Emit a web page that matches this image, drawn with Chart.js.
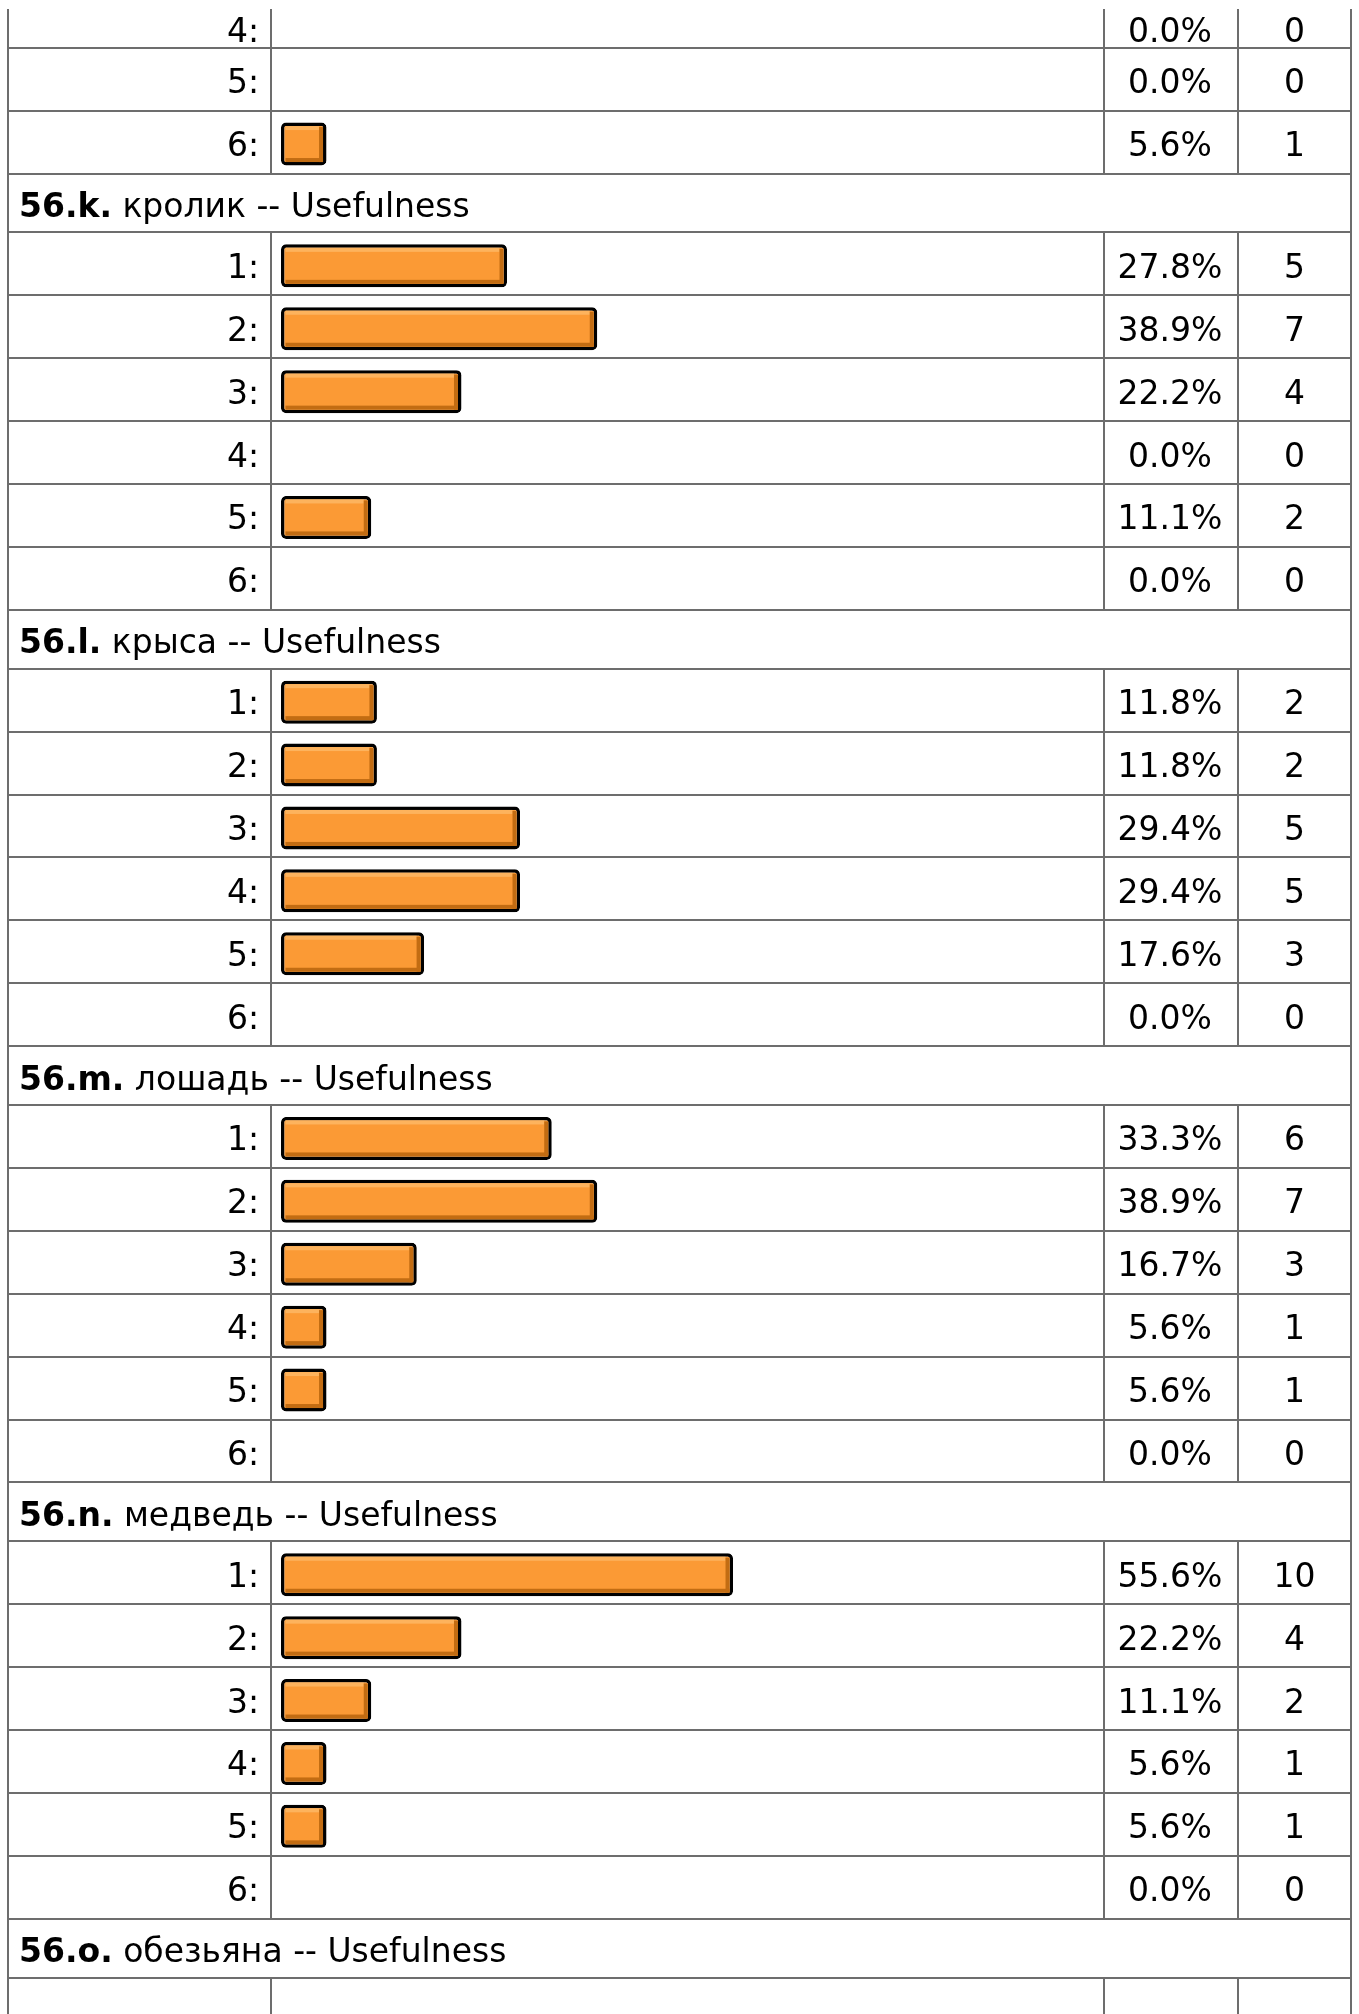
<!DOCTYPE html>
<html>
<head>
<meta charset="utf-8">
<title>56 — Usefulness</title>
<script src="https://cdn.jsdelivr.net/npm/chart.js@4.4.1/dist/chart.umd.min.js"></script>
<style>
  html, body { margin: 0; padding: 0; background: #ffffff; }
  #wrap { position: relative; width: 1359px; height: 2014px; overflow: hidden; }
  canvas { display: block; }
</style>
</head>
<body>
<div id="wrap"><canvas id="survey" width="1359" height="2014"></canvas></div>
<script>
// ---- answers ----------------------------------------------------------
const answerLabels = ['1:', '2:', '3:', '4:', '5:', '6:'];

// 56.j: only the last three answers are in view
const jLabels  = ['4:', '5:', '6:'];
const jPercent = [0.0, 0.0, 5.6];
const jCount   = [0, 0, 1];

// 56.k кролик
const kPercent = [27.8, 38.9, 22.2, 0.0, 11.1, 0.0];
const kCount   = [5, 7, 4, 0, 2, 0];

// 56.l крыса
const lPercent = [11.8, 11.8, 29.4, 29.4, 17.6, 0.0];
const lCount   = [2, 2, 5, 5, 3, 0];

// 56.m лошадь
const mPercent = [33.3, 38.9, 16.7, 5.6, 5.6, 0.0];
const mCount   = [6, 7, 3, 1, 1, 0];

// 56.n медведь
const nPercent = [55.6, 22.2, 11.1, 5.6, 5.6, 0.0];
const nCount   = [10, 4, 2, 1, 1, 0];

// question headings
const questionIds     = ['56.k.', '56.l.', '56.m.', '56.n.', '56.o.'];
const questionAnimals = ['кролик', 'крыса', 'лошадь', 'медведь', 'обезьяна'];
const questionSuffix  = ' -- Usefulness';

const blockPercents = [kPercent, lPercent, mPercent, nPercent];
const blockCounts   = [kCount, lCount, mCount, nCount];

// ---- table geometry ---------------------------------------------------
const PAGE_TOP   = 9;              // whitespace above the table
const ROW_PX     = 62.9;           // one answer row
const HEAD_SPAN  = 58.9 / ROW_PX;  // question rows are slightly shorter
const FIRST_SPAN = 38.7 / ROW_PX;  // the topmost row is partly scrolled away
const BAR_DROP   = 2 / ROW_PX;     // bars sit a touch below the row middle

const COLS = { left: 7, label: 270, pct: 1103, count: 1237, right: 1350, lineW: 2 };
const LABEL_RIGHT = 259;
const HEAD_X = 19;
const BASELINE_DROP = 14;

const LINE_COLOR = '#6d6d6d';
const TEXT_COLOR = '#000000';
const BAR_FILL   = '#fb9a35';
const BAR_LIGHT  = '#fdb35d';
const BAR_DARK   = '#c26c12';
const BAR_EDGE   = '#000000';
const BAR_BORDER = 3.5;

const FONT      = '33px "DejaVu Sans", Verdana, sans-serif';
const FONT_BOLD = 'bold 33px "DejaVu Sans", Verdana, sans-serif';

// Build the row list (in row units) from the arrays above
const rows = [];
let cursor = 0;
function addRow(row, span) {
  row.start = cursor;
  row.span = span;
  row.mid = cursor + span / 2;
  cursor += span;
  rows.push(row);
}

jLabels.forEach((lab, i) => {
  addRow({ kind: 'answer', label: lab, pct: jPercent[i], count: jCount[i] }, i === 0 ? FIRST_SPAN : 1);
});
questionIds.forEach((id, q) => {
  addRow({ kind: 'question', id: id, text: ' ' + questionAnimals[q] + questionSuffix }, HEAD_SPAN);
  if (q < blockPercents.length) {
    answerLabels.forEach((lab, i) => {
      addRow({ kind: 'answer', label: lab, pct: blockPercents[q][i], count: blockCounts[q][i] }, 1);
    });
  } else {
    addRow({ kind: 'blank' }, 1);
  }
});

const answerRows = rows.filter(r => r.kind === 'answer');
const barPoints = answerRows.map(r => ({ x: r.pct, y: r.mid + BAR_DROP }));

// ---- grid, captions and bar bevels ------------------------------------
const tablePlugin = {
  id: 'surveyTable',
  afterDatasetsDraw(chart) {
    const ctx = chart.ctx;
    const ys = chart.scales.y;
    const top = chart.chartArea.top;
    const bottom = chart.height;
    const px = u => ys.getPixelForValue(u);

    ctx.save();

    // bevel highlights on each bar
    const meta = chart.getDatasetMeta(0);
    meta.data.forEach(bar => {
      const p = bar.getProps(['x', 'y', 'base', 'height'], true);
      if (p.x - p.base < 10) return;
      const l = p.base + BAR_BORDER;
      const r = p.x - BAR_BORDER;
      const t = p.y - p.height / 2 + BAR_BORDER;
      const b = p.y + p.height / 2 - BAR_BORDER;
      ctx.fillStyle = BAR_LIGHT;
      ctx.fillRect(l + 1, t, r - l - 5, 4);
      ctx.fillStyle = BAR_DARK;
      ctx.fillRect(l + 1, b - 4, r - l - 1, 4);
      ctx.fillRect(r - 4, t + 1, 4, b - t - 1);
    });

    // table rules
    ctx.fillStyle = LINE_COLOR;
    const w = COLS.lineW;
    rows.forEach(row => {
      const y0 = Math.max(Math.round(px(row.start)), top);
      const y1 = Math.round(px(row.start + row.span));
      const yEnd = Math.min(y1, bottom);
      if (row.kind !== 'question') {
        [COLS.label, COLS.pct, COLS.count].forEach(x => ctx.fillRect(x, y0, w, yEnd - y0));
      }
      if (y1 < bottom) ctx.fillRect(COLS.left, y1 - 1, COLS.right + w - COLS.left, w);
    });
    ctx.fillRect(COLS.left, top, w, bottom - top);
    ctx.fillRect(COLS.right, top, w, bottom - top);

    // captions
    ctx.fillStyle = TEXT_COLOR;
    ctx.textBaseline = 'alphabetic';
    const pctMid = (COLS.pct + COLS.count + w) / 2 - 1;
    const cntMid = (COLS.count + COLS.right + w) / 2;
    rows.forEach(row => {
      const base = Math.round(px(row.mid)) + BASELINE_DROP;
      if (row.kind === 'answer') {
        ctx.font = FONT;
        ctx.textAlign = 'right';
        ctx.fillText(row.label, LABEL_RIGHT, base);
        ctx.textAlign = 'center';
        ctx.fillText(row.pct.toFixed(1) + '%', pctMid, base);
        ctx.fillText(String(row.count), cntMid, base);
      } else if (row.kind === 'question') {
        ctx.textAlign = 'left';
        ctx.font = FONT_BOLD;
        ctx.fillText(row.id, HEAD_X, base);
        const idW = ctx.measureText(row.id).width;
        ctx.font = FONT;
        ctx.fillText(row.text, HEAD_X + idW, base);
      }
    });

    ctx.restore();
  }
};

// ---- chart -------------------------------------------------------------
const canvas = document.getElementById('survey');
new Chart(canvas.getContext('2d'), {
  type: 'bar',
  data: {
    datasets: [{
      data: barPoints,
      backgroundColor: BAR_FILL,
      borderColor: BAR_EDGE,
      borderWidth: BAR_BORDER,
      borderRadius: 5,
      borderSkipped: false,
      inflateAmount: 0,
      barThickness: 43
    }]
  },
  options: {
    indexAxis: 'y',
    responsive: false,
    animation: false,
    events: [],
    layout: { padding: { top: PAGE_TOP, left: 281, right: 265, bottom: 0 } },
    scales: {
      x: { type: 'linear', min: 0, max: 100, display: false, offset: false },
      y: {
        type: 'linear', min: 0, max: (2014 - PAGE_TOP) / ROW_PX,
        reverse: true, display: false, offset: false, grid: { offset: false }
      }
    },
    plugins: {
      legend: { display: false },
      tooltip: { enabled: false },
      title: { display: false }
    }
  },
  plugins: [tablePlugin]
});
</script>
</body>
</html>
